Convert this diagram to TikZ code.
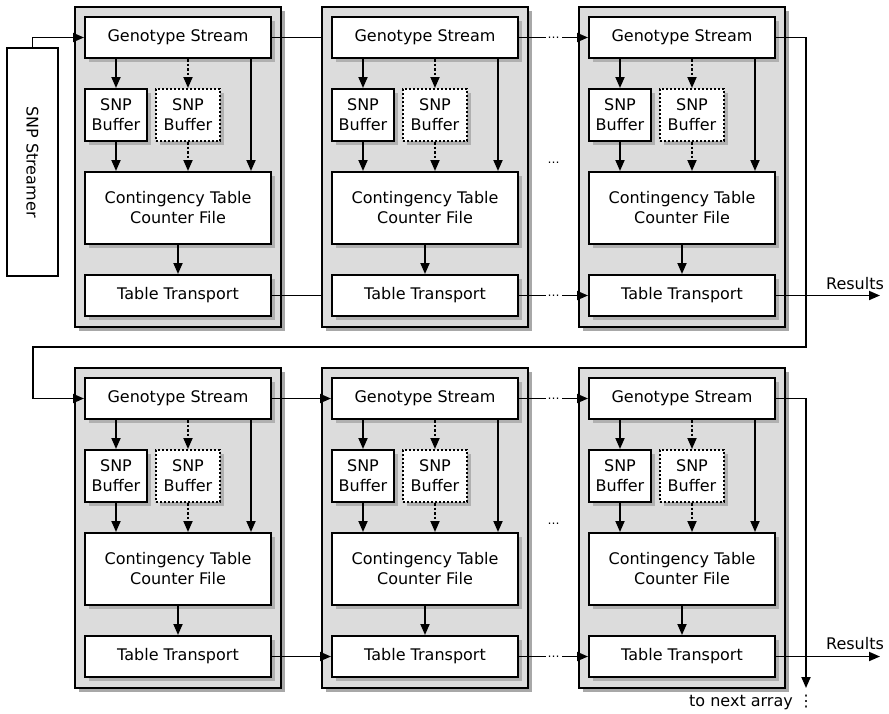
\documentclass[tikz,border=0pt]{standalone}
\usepackage{fontspec}
\setmainfont{DejaVu Sans}
\usetikzlibrary{arrows.meta,shadows,calc}

\definecolor{panelgray}{HTML}{DCDCDC}
\definecolor{panelshadow}{HTML}{A8A8A8}
\definecolor{boxshadow}{HTML}{B0B0B0}

\tikzset{
  panel/.style={draw, line width=2pt, fill=panelgray, inner sep=0pt,
    minimum width=206pt, minimum height=320pt,
    drop shadow={shadow xshift=4pt, shadow yshift=-4pt, fill=panelshadow, opacity=1}},
  unit/.style={draw, line width=2pt, fill=white, inner sep=0pt, align=center,
    font=\fontsize{16}{20}\selectfont,
    drop shadow={shadow xshift=4pt, shadow yshift=-4pt, fill=boxshadow, opacity=1}},
  dotbox/.style={unit, dash pattern=on 2pt off 2pt},
  plain/.style={draw, line width=2pt, fill=white, inner sep=0pt,
    font=\fontsize{16}{20}\selectfont},
  arr/.style={line width=1.8pt, -{Triangle[length=11pt,width=9pt]}},
  dotarr/.style={arr, dash pattern=on 2.5pt off 2pt},
  link/.style={line width=1.8pt},
  gap/.style={fill=white, inner sep=0pt, minimum width=16pt, minimum height=4pt},
  dotsym/.style={font=\fontsize{12}{12}\selectfont, inner sep=0pt, anchor=base, yshift=-1pt},
  lbl/.style={font=\fontsize{16}{20}\selectfont, inner sep=0pt},
}

\begin{document}
\begin{tikzpicture}[x=1pt, y=-1pt]
\useasboundingbox (0,0) rectangle (889,713);

% SNP streamer feeding the first array
\node[plain, minimum width=51pt, minimum height=228pt] (ss) at (32.5,162) {\rotatebox{-90}{SNP Streamer}};

% processing elements, two rows of three
\foreach \r/\Y in {1/7,2/368}{
  \foreach \c/\X in {1/75,2/322,3/579}{
    \begin{scope}[shift={(\X,\Y)}]
      \node[panel] (blk\r\c) at (103,160) {};
      \node[unit, minimum width=186pt, minimum height=41pt] (gs\r\c) at (103,30.5) {Genotype Stream};
      \node[unit, minimum width=62pt, minimum height=52pt] (sba\r\c) at (41,108) {SNP\\Buffer};
      \node[dotbox, minimum width=64pt, minimum height=52pt] (sbb\r\c) at (113,108) {SNP\\Buffer};
      \node[unit, minimum width=186pt, minimum height=72pt] (ct\r\c) at (103,201) {Contingency Table\\Counter File};
      \node[unit, minimum width=186pt, minimum height=41pt] (tt\r\c) at (103,288.5) {Table Transport};
      \draw[arr] (sba\r\c.north |- gs\r\c.south) -- (sba\r\c.north);
      \draw[arr] (sba\r\c.south) -- (sba\r\c.south |- ct\r\c.north);
      \draw[dotarr] (sbb\r\c.north |- gs\r\c.south) -- (sbb\r\c.north);
      \draw[dotarr] (sbb\r\c.south) -- (sbb\r\c.south |- ct\r\c.north);
      \draw[arr] ([xshift=-21pt]gs\r\c.south east) -- ([xshift=-21pt]ct\r\c.north east);
      \draw[arr] (ct\r\c.south) -- (tt\r\c.north);
    \end{scope}
  }
}

% top row links
\draw[arr] (ss.north) |- (gs11.west);
\draw[link] (gs11.east) -- (gs11.east -| blk12.west);
\draw[link] (tt11.east) -- (tt11.east -| blk12.west);
\draw[arr] (gs12.east) -- node[gap]{} node[dotsym]{…} (gs13.west);
\draw[arr] (tt12.east) -- node[gap]{} node[dotsym]{…} (tt13.west);
\node[dotsym] (ell1) at (553.5,162) {…};

% results of the first row
\coordinate (resx) at (880,0);
\draw[arr] (tt13.east) -- (tt13.east -| resx);
\node[lbl, anchor=base] (res1) at (855,289) {Results};

% wrap-around from the first row to the second
\coordinate (fbr) at (806,347);
\coordinate (fbl) at (33,347);
\draw[arr] (gs13.east) -| (fbr) -- (fbl) |- (gs21.west);

% bottom row links
\draw[arr] (gs21.east) -- (gs22.west);
\draw[arr] (tt21.east) -- (tt22.west);
\draw[arr] (gs22.east) -- node[gap]{} node[dotsym]{…} (gs23.west);
\draw[arr] (tt22.east) -- node[gap]{} node[dotsym]{…} (tt23.west);
\node[dotsym] (ell2) at (553.5,523) {…};

% results of the second row
\draw[arr] (tt23.east) -- (tt23.east -| resx);
\node[lbl, anchor=base] (res2) at (855,649) {Results};

% continuation to the next array
\coordinate (nxt) at (806,688);
\draw[arr] (gs23.east) -| (nxt);
\node[lbl, anchor=base east] (nxtlbl) at (793,706) {to next array};
\node[lbl, anchor=base] (vdots) at (806,706) {⋮};
\end{tikzpicture}
\end{document}
